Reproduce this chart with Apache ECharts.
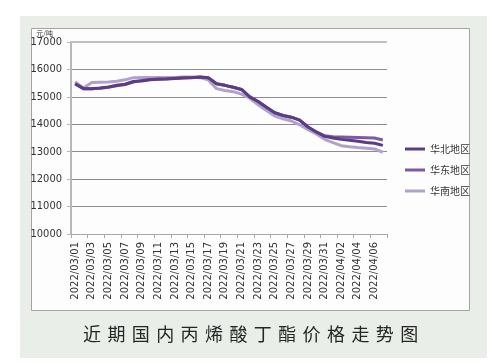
<!DOCTYPE html>
<html><head><meta charset="utf-8">
<script src="https://cdn.jsdelivr.net/npm/echarts@6/dist/echarts.min.js"></script>
<style>html,body{margin:0;padding:0;background:#fff}#c{width:494px;height:363px}</style>
</head><body><div id="c"></div>
<script>
const categories = ['2022/03/01','2022/03/02','2022/03/03','2022/03/04','2022/03/05','2022/03/06','2022/03/07','2022/03/08','2022/03/09','2022/03/10',
'2022/03/11','2022/03/12','2022/03/13','2022/03/14','2022/03/15','2022/03/16','2022/03/17','2022/03/18','2022/03/19','2022/03/20',
'2022/03/21','2022/03/22','2022/03/23','2022/03/24','2022/03/25','2022/03/26','2022/03/27','2022/03/28','2022/03/29','2022/03/30',
'2022/03/31','2022/04/01','2022/04/02','2022/04/03','2022/04/04','2022/04/05','2022/04/06','2022/04/07'];
const huabei = [15470,15300,15300,15320,15360,15420,15460,15560,15580,15620,15640,15650,15670,15690,15700,15720,15700,15480,15420,15350,15270,15000,14830,14620,14420,14320,14260,14150,13900,13720,13560,13500,13450,13420,13380,13340,13310,13230];
const huadong = [15480,15300,15300,15310,15350,15400,15450,15540,15600,15630,15650,15660,15680,15700,15710,15720,15700,15480,15420,15350,15270,15000,14830,14620,14420,14320,14260,14150,13900,13720,13580,13550,13540,13530,13520,13510,13500,13430];
const huanan = [15550,15320,15520,15530,15540,15570,15620,15700,15710,15710,15710,15710,15710,15720,15720,15700,15620,15300,15230,15190,15100,14950,14710,14500,14300,14200,14120,13980,13800,13650,13450,13330,13220,13180,13150,13130,13100,12980];
const seriesNames = ['华北地区','华东地区','华南地区'];
const yTicks = {min:10000, max:17000, interval:1000};
const unit = '元/吨';
const title = '近期国内丙烯酸丁酯价格走势图';

const colors = ['#5a3d85','#7a5aa8','#b0a2cc'];
const chart = echarts.init(document.getElementById('c'), null, {renderer:'canvas'});
const titleChars = title.split('').map((ch,i)=>({
  type:'text', left: 83 + i*24.4, top: 325,
  style:{text:ch, font:'18px "Noto Sans CJK SC"', fill:'#262626'}
}));
chart.setOption({
  backgroundColor:'#fff',
  animation:false,
  graphic:[
    {type:'rect', shape:{x:20,y:16,width:467,height:342}, style:{fill:'#e9eee9'}, z:-10},
    {type:'rect', shape:{x:31.5,y:28.5,width:438,height:282}, style:{fill:'#fdfdfd', stroke:'#a8a2a2', lineWidth:1}, z:-9},
    ...titleChars
  ],
  grid:{left:71, top:42, right:107, bottom:129},
  legend:{
    orient:'vertical', left:400, top:139, itemWidth:20, itemHeight:3, itemGap:11, icon:'rect',
    textStyle:{fontSize:10, color:'#333', fontFamily:'"Noto Sans CJK SC"'},
    data:seriesNames
  },
  xAxis:{
    type:'category', data:categories, boundaryGap:true,
    axisLine:{lineStyle:{color:'#a8a8a8', width:1}},
    axisTick:{show:true, interval:1, length:4, lineStyle:{color:'#a8a8a8'}},
    axisLabel:{interval:1, rotate:90, margin:8, fontSize:10, color:'#333', fontFamily:'"DejaVu Sans"'}
  },
  yAxis:{
    type:'value', min:yTicks.min, max:yTicks.max, interval:yTicks.interval,
    name:unit, nameLocation:'end', nameGap:3,
    nameTextStyle:{fontSize:7, color:'#333', align:'right', padding:[0,18,0,0], fontFamily:'"Noto Sans CJK SC"'},
    axisLine:{show:true, lineStyle:{color:'#b8b8b8', width:2}},
    axisTick:{show:true, length:4, lineStyle:{color:'#b8b8b8'}},
    axisLabel:{fontSize:11, color:'#333', margin:9, formatter:(v)=>String(v), fontFamily:'"Liberation Sans Narrow","DejaVu Sans Condensed",sans-serif'},
    splitLine:{showMaxLine:false, lineStyle:{color:'#8c8c8c', width:1}}
  },
  series:[huabei,huadong,huanan].map((d,i)=>({
    name:seriesNames[i], type:'line', data:d, symbol:'none', smooth:false,
    lineStyle:{width:3, color:colors[i]}, itemStyle:{color:colors[i]}, z: 3-i,
    markLine: i===0 ? {silent:true, symbol:'none', label:{show:false}, animation:false,
      lineStyle:{type:'solid', color:'#c4bfbf', width:2}, data:[{yAxis:yTicks.max}]} : undefined
  }))
});
</script></body></html>
